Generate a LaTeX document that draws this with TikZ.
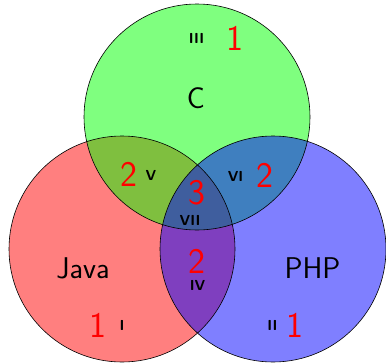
\documentclass[tikz,border=0pt]{standalone}
\usepackage{fontspec}
\begin{document}
\begin{tikzpicture}[x=1pt,y=-1pt,
  setfill/.style={fill opacity=0.5},
  ring/.style={draw=black,line width=0.6pt},
  setname/.style={font=\sffamily\fontsize{30}{32}\selectfont,inner sep=0pt},
  count/.style={font=\sffamily\fontsize{36}{38}\selectfont,text=red,inner sep=0pt},
  region/.style={font=\sffamily\bfseries\fontsize{14.5}{16}\selectfont,inner sep=0pt}]
\useasboundingbox (0,0) rectangle (386,362);
\coordinate (cj) at (122,249);
\coordinate (cc) at (197,117);
\coordinate (cp) at (273,249);
\fill[red,setfill] (cj) circle (113);
\fill[green,setfill] (cc) circle (113);
\fill[blue,setfill] (cp) circle (113);
\draw[ring] (cj) circle (113);
\draw[ring] (cc) circle (113);
\draw[ring] (cp) circle (113);
\node[region] (r3) at (196.5,38) {III};
\node[count] (n3) at (235,38.5) {1};
\node[setname] (c) at (196,98.5) {C};
\node[count] (n5) at (129,174.5) {2};
\node[region] (r5) at (151,175) {V};
\node[region] (r6) at (235.5,176) {VI};
\node[count] (n6) at (265,175) {2};
\node[count] (n7) at (196.5,193) {3};
\node[region] (r7) at (190,220.5) {VII};
\node[count] (n4) at (197,261) {2};
\node[region] (r4) at (197.5,285.5) {IV};
\node[setname] (java) at (83,268.5) {Java};
\node[setname] (php) at (312.5,268.5) {PHP};
\node[count] (n1) at (98,325) {1};
\node[region] (r1) at (122,325) {I};
\node[region] (r2) at (272.5,325) {II};
\node[count] (n2) at (295,325) {1};
\end{tikzpicture}
\end{document}
